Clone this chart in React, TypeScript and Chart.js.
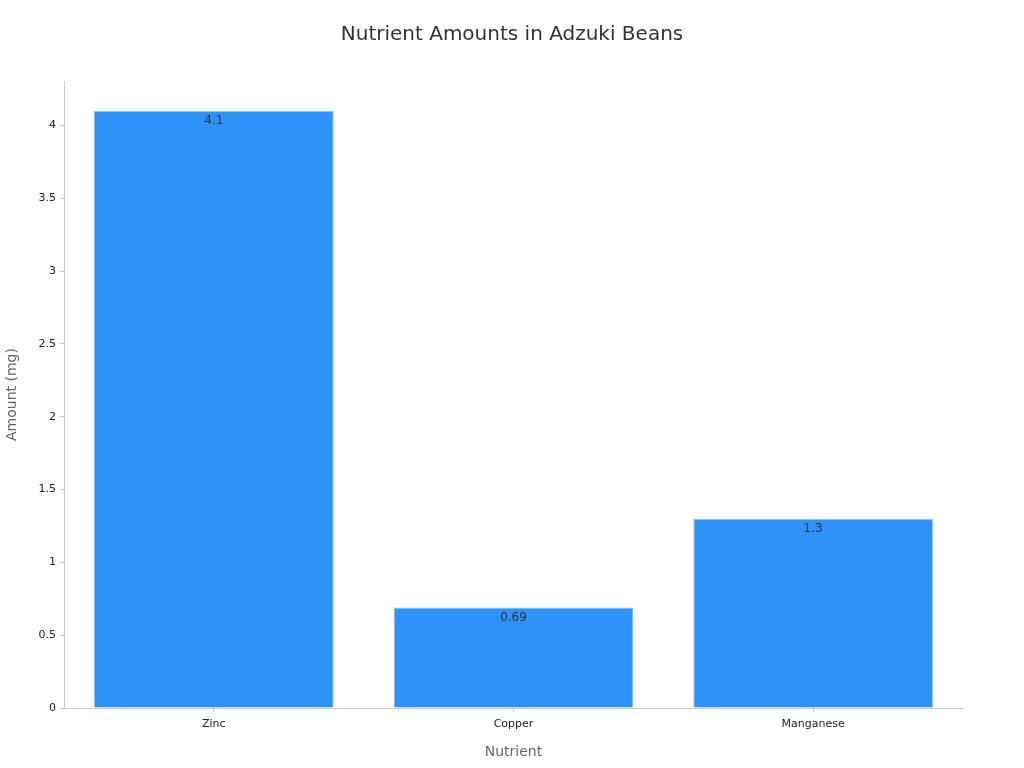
import { Chart, registerables } from "chart.js";
import { useEffect, useRef } from "react";

Chart.register(...registerables);

const nutrients = ["Zinc", "Copper", "Manganese"];
const amounts = [4.1, 0.69, 1.3];
const yTicks = [0, 0.5, 1, 1.5, 2, 2.5, 3, 3.5, 4];

// draws each value just inside the top of its bar
const valueLabels = {
  id: "valueLabels",
  afterDatasetsDraw(chart: any) {
    const ctx = chart.ctx;
    const meta = chart.getDatasetMeta(0);
    ctx.save();
    ctx.font = "12px 'DejaVu Sans'";
    ctx.fillStyle = "#333";
    ctx.textAlign = "center";
    ctx.textBaseline = "middle";
    meta.data.forEach((bar: any, i: number) => {
      ctx.fillText(String(amounts[i]), bar.x, bar.y + 10);
    });
    ctx.restore();
  },
};

const App = () => {
  const chartRef = useRef<HTMLCanvasElement>(null);

  useEffect(() => {
    document.body.style.margin = "0";
    if (!chartRef.current) return;
    const ctx = chartRef.current.getContext("2d");
    if (!ctx) return;
    Chart.defaults.font.family = "'DejaVu Sans', sans-serif";
    const chart = new Chart(ctx, {
      type: "bar",
      data: {
        labels: nutrients,
        datasets: [
          {
            label: "Amount (mg)",
            data: amounts,
            backgroundColor: "#2E93F8",
            borderColor: "#8FC3F5",
            borderWidth: 1,
            categoryPercentage: 0.8,
            barPercentage: 1,
          },
        ],
      },
      options: {
        responsive: true,
        maintainAspectRatio: false,
        animation: false,
        layout: { padding: 0 },
        plugins: {
          legend: { display: false },
          tooltip: { enabled: false },
          title: {
            display: true,
            text: "Nutrient Amounts in Adzuki Beans",
            color: "#333",
            font: { size: 20, weight: "normal" },
            padding: { top: 23, bottom: 34 },
          },
        },
        scales: {
          x: {
            grid: { drawOnChartArea: false, color: "#ccc", tickLength: 4, offset: false },
            border: { color: "#ccc" },
            ticks: { color: "#222", font: { size: 11 }, padding: 6 },
            title: {
              display: true,
              text: "Nutrient",
              color: "#666",
              font: { size: 14 },
              padding: { top: 4, bottom: 7 },
            },
            afterFit: (scale: any) => {
              scale.height = 60;
            },
          },
          y: {
            min: 0,
            max: 4.305,
            grid: { drawOnChartArea: false, color: "#ccc", tickLength: 4 },
            border: { color: "#ccc" },
            afterBuildTicks: (scale: any) => {
              scale.ticks = yTicks.map((v) => ({ value: v }));
            },
            ticks: {
              color: "#222",
              font: { size: 11 },
              padding: 4,
              callback: (v: any) => String(v),
            },
            title: {
              display: true,
              text: "Amount (mg)",
              color: "#666",
              font: { size: 14 },
              padding: { top: 4, bottom: 4 },
            },
            afterFit: (scale: any) => {
              scale.width = 64;
            },
          },
          // empty right-hand axis that only reserves the right margin
          spacer: {
            type: "linear",
            position: "right",
            display: true,
            grid: { display: false },
            border: { display: false },
            ticks: { display: false },
            afterFit: (scale: any) => {
              scale.width = 61;
            },
          },
        },
      },
      plugins: [valueLabels],
    });
    return () => chart.destroy();
  }, []);

  return (
    <div style={{ position: "relative", width: 1024, height: 768 }}>
      <canvas ref={chartRef}></canvas>
    </div>
  );
};

export default App;
